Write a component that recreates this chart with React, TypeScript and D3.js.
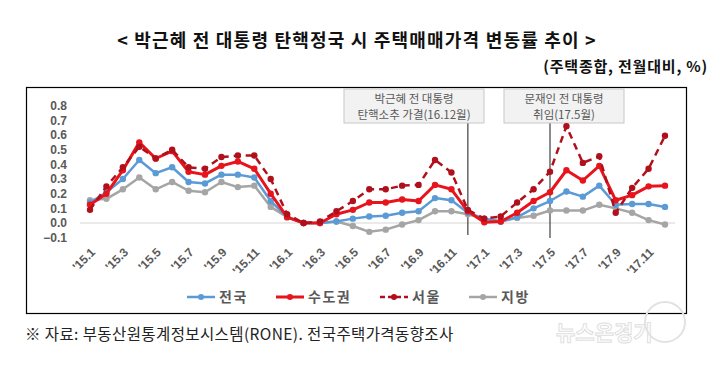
import React, { useEffect, useRef } from "react";
import * as d3 from "d3";

// months '15.1 .. '17.12
const months: string[] = [];
for (let yy = 15; yy <= 17; yy++) for (let m = 1; m <= 12; m++) months.push(`'${yy}.${m}`);

const nation = [0.14, 0.21, 0.30, 0.43, 0.34, 0.38, 0.28, 0.27, 0.33, 0.33, 0.31, 0.15,
  0.04, 0.00, 0.00, 0.01, 0.03, 0.045, 0.05, 0.07, 0.08, 0.17, 0.155, 0.07,
  0.03, 0.01, 0.04, 0.10, 0.15, 0.215, 0.18, 0.255, 0.125, 0.13, 0.13, 0.11];
const capital = [0.125, 0.20, 0.36, 0.55, 0.44, 0.49, 0.35, 0.33, 0.39, 0.42, 0.37, 0.20,
  0.04, 0.00, 0.00, 0.06, 0.09, 0.14, 0.14, 0.16, 0.15, 0.26, 0.23, 0.08,
  0.005, 0.01, 0.07, 0.15, 0.21, 0.36, 0.29, 0.39, 0.155, 0.19, 0.25, 0.255];
const seoul = [0.09, 0.25, 0.38, 0.52, 0.44, 0.50, 0.38, 0.37, 0.45, 0.46, 0.46, 0.30,
  0.06, 0.00, 0.01, 0.08, 0.15, 0.23, 0.23, 0.255, 0.26, 0.43, 0.345, 0.09,
  0.03, 0.045, 0.14, 0.23, 0.35, 0.66, 0.41, 0.455, 0.07, 0.24, 0.37, 0.595];
const local = [0.155, 0.165, 0.23, 0.31, 0.23, 0.28, 0.22, 0.21, 0.28, 0.245, 0.255, 0.11,
  0.04, 0.00, 0.00, 0.01, -0.02, -0.06, -0.045, -0.01, 0.02, 0.08, 0.08, 0.06,
  0.03, 0.01, 0.035, 0.05, 0.085, 0.085, 0.085, 0.125, 0.10, 0.07, 0.02, -0.01];

const yTicks = [-0.1, 0, 0.1, 0.2, 0.3, 0.4, 0.5, 0.6, 0.7, 0.8];

const seriesList = [
  { name: "전국", values: nation, color: "#5b9bd5", dash: null, width: 2.5 },
  { name: "수도권", values: capital, color: "#e8141c", dash: null, width: 3 },
  { name: "서울", values: seoul, color: "#b0101c", dash: "7,5", width: 2.5 },
  { name: "지방", values: local, color: "#a5a5a5", dash: null, width: 2.5 },
];
const drawOrder = [3, 0, 1, 2];

const events = [
  { idx: 23, lines: ["박근혜 전 대통령", "탄핵소추 가결(16.12월)"], x0: 344, x1: 484, lineEnd: 235 },
  { idx: 28, lines: ["문재인 전 대통령", "취임(17.5월)"], x0: 504, x1: 624, lineEnd: 238 },
];

const sans = "'Noto Sans CJK KR', 'Liberation Sans', sans-serif";
const num = "'Liberation Sans', Arial, sans-serif";

export default function App() {
  const ref = useRef<SVGSVGElement>(null);

  useEffect(() => {
    const svg = d3.select(ref.current);
    svg.selectAll("*").remove();

    const x = d3.scaleLinear().domain([0, months.length - 1]).range([90, 665]);
    const y = d3.scaleLinear().domain([-0.1, 0.8]).range([237.7, 105.7]);

    // title
    svg.append("text").attr("x", 357).attr("y", 47).attr("text-anchor", "middle")
      .style("font-family", "'Noto Sans CJK KR', serif").style("font-weight", "bold")
      .style("font-size", "18px").attr("letter-spacing", "1.2").attr("fill", "#111")
      .text("< 박근혜 전 대통령 탄핵정국 시 주택매매가격 변동률 추이 >");
    svg.append("text").attr("x", 708).attr("y", 72).attr("text-anchor", "end")
      .style("font-family", "'Noto Sans CJK KR', serif").style("font-weight", "bold")
      .style("font-size", "15px").attr("fill", "#111")
      .attr("letter-spacing", "0.8")
      .text("(주택종합, 전월대비, %)");

    // frame
    svg.append("rect").attr("x", 26.5).attr("y", 87.5).attr("width", 660).attr("height", 226)
      .attr("fill", "white").attr("stroke", "#000").attr("stroke-width", 1.2);

    // zero line
    svg.append("line").attr("x1", 80).attr("x2", 675).attr("y1", y(0)).attr("y2", y(0))
      .attr("stroke", "#e3e3e3").attr("stroke-width", 1.5);

    // y labels
    svg.append("g").selectAll("text").data(yTicks).enter().append("text")
      .attr("x", 67).attr("y", d => y(d)).attr("dy", "0.35em").attr("text-anchor", "end")
      .style("font-family", num).style("font-weight", "bold").style("font-size", "12px")
      .attr("fill", "#595959").text(d => d3.format(".1f")(d));

    // x labels
    svg.append("g").selectAll("text").data(months.filter((_, i) => i % 2 === 0)).enter().append("text")
      .attr("transform", (d) => `translate(${x(months.indexOf(d)) + 6},253) rotate(-45)`)
      .attr("text-anchor", "end")
      .style("font-family", num).style("font-weight", "bold").style("font-size", "12px")
      .attr("fill", "#595959").text(d => d);

    // event markers
    events.forEach(ev => {
      svg.append("line").attr("x1", x(ev.idx)).attr("x2", x(ev.idx)).attr("y1", 123).attr("y2", ev.lineEnd)
        .attr("stroke", "#404040").attr("stroke-width", 1.2);
      svg.append("rect").attr("x", ev.x0).attr("y", 89).attr("width", ev.x1 - ev.x0).attr("height", 34)
        .attr("fill", "#f2f2f2").attr("stroke", "#c8c8c8");
      ev.lines.forEach((t, k) => {
        svg.append("text").attr("x", (ev.x0 + ev.x1) / 2).attr("y", 99 + k * 16).attr("dy", "0.35em")
          .attr("text-anchor", "middle").style("font-family", sans).style("font-size", "11.5px")
          .attr("fill", "#595959").text(t);
      });
    });

    const line = d3.line<number>().x((_, i) => x(i)).y(d => y(d));

    drawOrder.forEach(si => {
      const s = seriesList[si];
      const g = svg.append("g");
      g.append("path").attr("d", line(s.values)).attr("fill", "none").attr("stroke", s.color)
        .attr("stroke-width", s.width).attr("stroke-dasharray", s.dash).attr("stroke-linejoin", "round");
      g.selectAll("circle").data(s.values).enter().append("circle")
        .attr("cx", (_, i) => x(i)).attr("cy", d => y(d)).attr("r", 3.2).attr("fill", s.color);
    });

    // legend
    const legendX = [187, 276, 380, 469];
    seriesList.forEach((s, i) => {
      const lg = svg.append("g").attr("transform", `translate(${legendX[i]},297)`);
      lg.append("line").attr("x1", 0).attr("x2", 28).attr("stroke", s.color)
        .attr("stroke-width", s.width).attr("stroke-dasharray", s.dash ? "5,3" : null);
      lg.append("circle").attr("cx", 14).attr("r", 3).attr("fill", s.color);
      lg.append("text").attr("x", 32).attr("dy", "0.35em").style("font-family", sans)
        .style("font-weight", "bold").style("font-size", "14px").attr("fill", "#595959")
        .attr("letter-spacing", "1.5").text(s.name);
    });

    // source
    svg.append("text").attr("x", 25).attr("y", 340)
      .style("font-family", sans).style("font-size", "15.5px").attr("fill", "#222")
      .attr("letter-spacing", "0.4")
      .text("※ 자료: 부동산원통계정보시스템(RONE). 전국주택가격동향조사");

    // watermark
    svg.append("text").attr("x", 556).attr("y", 340)
      .style("font-family", sans).style("font-weight", "bold").style("font-size", "21px")
      .attr("fill", "#ffffff").attr("stroke", "#d8d8d8").attr("stroke-width", 1)
      .attr("opacity", 0.8).text("뉴스온경기");
    svg.append("circle").attr("cx", 665).attr("cy", 322).attr("r", 20)
      .attr("fill", "none").attr("stroke", "#e2e2e2").attr("stroke-width", 2);
  }, []);

  return (
    <div style={{ margin: -8 }}>
      <svg ref={ref} width={724} height={365} style={{ display: "block", background: "#fff" }} />
    </div>
  );
}
